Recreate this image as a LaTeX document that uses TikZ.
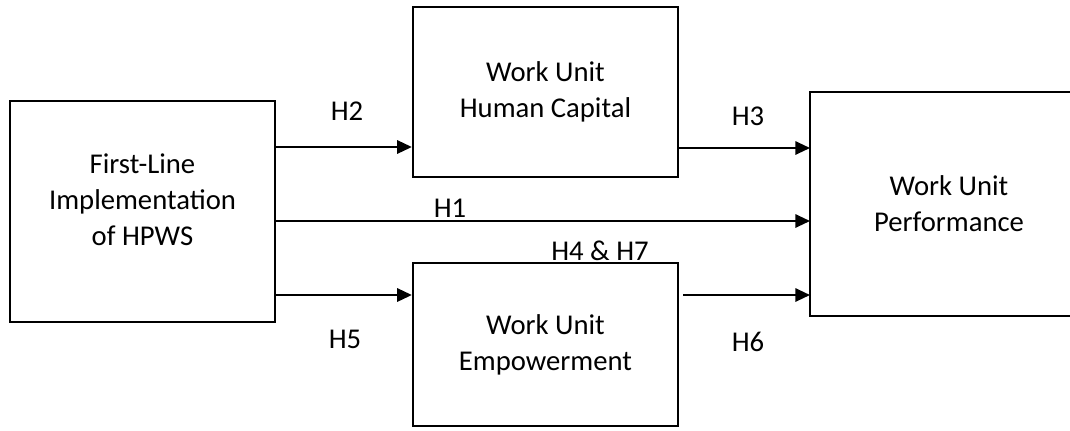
\documentclass[tikz,border=0pt]{standalone}
\usepackage{fontspec}
\setmainfont{Carlito}
\usetikzlibrary{arrows.meta}

\tikzset{
  bloc/.style={draw, line width=1.5pt, minimum width=199pt, align=center, inner sep=0pt, font=\fontsize{21.5}{27}\selectfont},
  fleche/.style={line width=1.5pt, -{Triangle[length=11pt,width=10pt]}},
  hyp/.style={inner sep=0pt, font=\fontsize{21.5}{27}\selectfont}
}

\begin{document}
\begin{tikzpicture}[x={(0.75pt,0)}, y={(0,-0.75pt)}]

 \useasboundingbox (0,0) rectangle (1070,430);

 %%%%%%%%%% Boxes %%%%%%%%%%
 \node[bloc, minimum height=165.75pt] (fli) at (142.5,211.5) {First-Line\\Implementation\\of HPWS\\[-9pt]};
 \node[bloc, minimum height=127.5pt] (hc) at (545.5,92) {Work Unit\\Human Capital};
 \node[bloc, minimum height=122.25pt] (emp) at (545.5,344.5) {Work Unit\\Empowerment};
 \node[bloc, draw=none, minimum width=207pt, minimum height=166.5pt] (wup) at (949,204) {Work Unit\\Performance};
 % right side of this box is cut by the page edge
 \draw[line width=1.5pt] (wup.north east) -- (wup.north west) -- (wup.south west) -- (wup.south east);

 %%%%%%%%%% Paths %%%%%%%%%%
 \draw[fleche] (fli.east |- 0,147) -- (hc.west |- 0,147);
 \draw[fleche] (fli.east |- 0,221) -- (wup.west |- 0,221);
 \draw[fleche] (fli.east |- 0,295) -- (emp.west |- 0,295);
 \draw[fleche] (hc.east |- 0,148) -- (wup.west |- 0,148);
 \draw[fleche, shorten <=3pt] (emp.east |- 0,295) -- (wup.west |- 0,295);

 %%%%%%%%%% Hypotheses %%%%%%%%%%
 \node[hyp] (h2) at (347,111) {H2};
 \node[hyp] (h3) at (748,116) {H3};
 \node[hyp] (h1) at (450,208) {H1};
 \node[hyp] (h47) at (600,251) {H4 \& H7};
 \node[hyp] (h5) at (345,339) {H5};
 \node[hyp] (h6) at (748,342) {H6};

\end{tikzpicture}
\end{document}
